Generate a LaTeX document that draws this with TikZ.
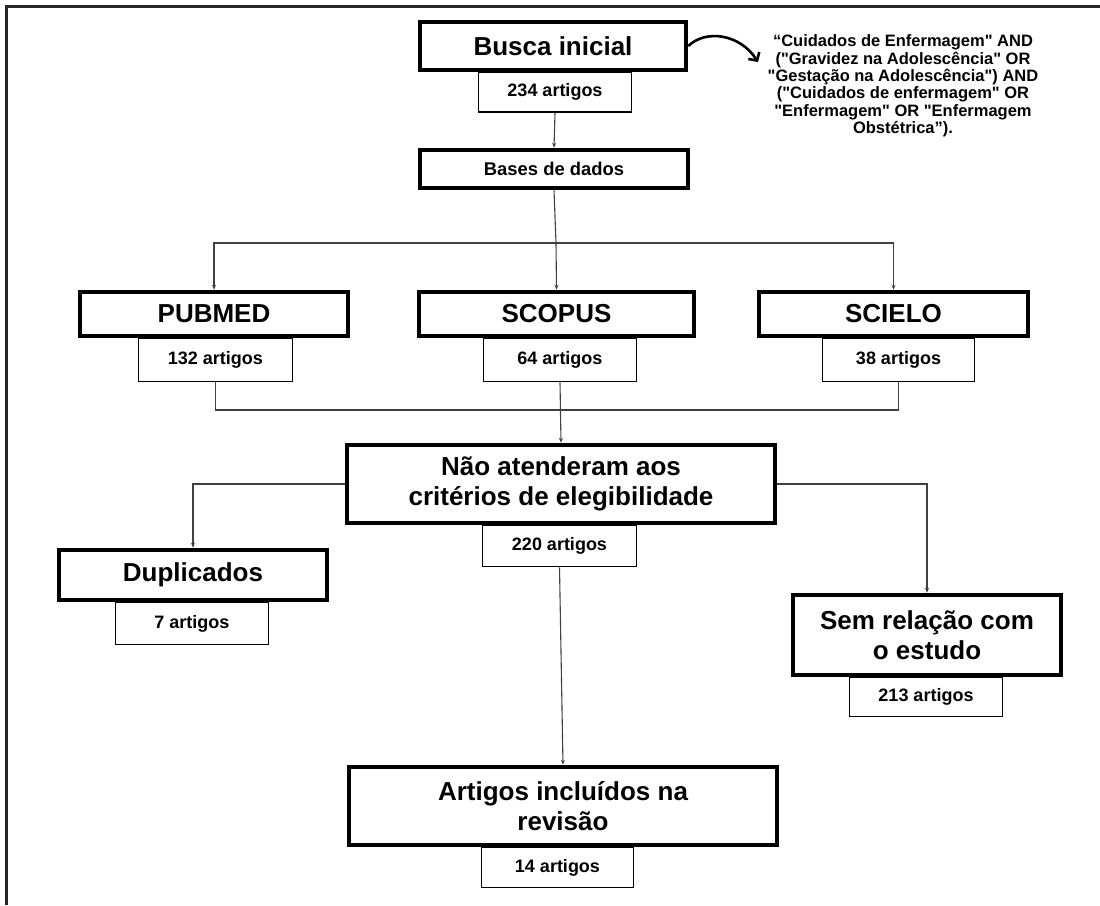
\documentclass[tikz,border=0pt]{standalone}
\usepackage{fontspec}
\setmainfont{Liberation Sans}[Ligatures=TeXOff]
\usetikzlibrary{arrows.meta}
\begin{document}
\begin{tikzpicture}[x=1pt,y=-1pt,
 bigbox/.style={draw, line width=4.5pt, inner sep=0pt, align=center, fill=white, font=\bfseries\fontsize{26}{30}\selectfont},
 cntbox/.style={draw, line width=1.6pt, inner sep=0pt, align=center, fill=white, font=\bfseries\fontsize{18}{21}\selectfont},
 conn/.style={draw=black!75, line width=1.1pt},
 arr/.style={conn, -{Stealth[length=5pt,width=4pt]}},
 query/.style={align=center, inner sep=0pt, font=\bfseries\fontsize{16.5}{17.4}\selectfont},
]
\useasboundingbox (0,0) rectangle (1100,905);
\draw[line width=2.6pt, black!85] (6.5,905) -- (6.5,6.5) -- (1100,6.5);

% count boxes
\node[cntbox, minimum width=153pt, minimum height=40pt] (n234) at (555,92) {234 artigos};
\node[cntbox, minimum width=154pt, minimum height=43pt] (n132) at (215.5,360) {132 artigos};
\node[cntbox, minimum width=153pt, minimum height=43pt] (n64) at (560,360) {64 artigos};
\node[cntbox, minimum width=152pt, minimum height=43pt] (n38) at (898.5,360) {38 artigos};
\node[cntbox, minimum width=154pt, minimum height=41pt] (n220) at (559.5,546) {220 artigos};
\node[cntbox, minimum width=153pt, minimum height=42pt] (n7) at (192,623.5) {7 artigos};
\node[cntbox, minimum width=153pt, minimum height=39pt] (n213) at (926,697) {213 artigos};
\node[cntbox, minimum width=152pt, minimum height=40pt] (n14) at (557.5,867.5) {14 artigos};

% main boxes
\node[bigbox, minimum width=266pt, minimum height=48pt] (busca) at (553,46) {Busca inicial};
\node[bigbox, minimum width=268pt, minimum height=38pt, font=\bfseries\fontsize{18.4}{21}\selectfont] (bases) at (554,169) {Bases de dados};
\node[bigbox, minimum width=268pt, minimum height=44pt] (pubmed) at (214,314) {PUBMED};
\node[bigbox, minimum width=275pt, minimum height=44pt] (scopus) at (556.5,314) {SCOPUS};
\node[bigbox, minimum width=269pt, minimum height=44pt] (scielo) at (893.5,314) {SCIELO};
\node[bigbox, minimum width=428pt, minimum height=78pt] (nao) at (561,484) {Não atenderam aos\\critérios de elegibilidade};
\node[bigbox, minimum width=268pt, minimum height=50pt] (dup) at (193,575) {Duplicados};
\node[bigbox, minimum width=268pt, minimum height=80pt] (sem) at (927,635) {Sem relação com\\o estudo};
\node[bigbox, minimum width=428pt, minimum height=78pt] (art) at (563,806) {Artigos incluídos na\\revisão};

% query text
\node[query] (q) at (903,86) {“Cuidados de Enfermagem" AND\\("Gravidez na Adolescência" OR\\"Gestação na Adolescência") AND\\("Cuidados de enfermagem" OR\\"Enfermagem" OR "Enfermagem\\Obstétrica”).};
\coordinate (qa) at (758,62);
\draw[line width=2.6pt, -{Straight Barb[length=6pt,width=13pt,line width=2.6pt]}] (busca.east) .. controls (706,29) and (740,34) .. (qa);

% connectors
\draw[arr] (n234.south) -- (bases.north);
\coordinate (j1) at (556,243);
\draw[conn] (bases.south) -- (j1);
\draw[arr] (j1) -| (pubmed.north);
\draw[arr] (j1) -| (scielo.north);
\draw[arr] (j1) -- (scopus.north);
\coordinate (j2) at (558,410);
\draw[conn] (n132.south) |- (j2) -| (n38.south);
\draw[arr] (n64.south) -- (nao.north);
\draw[arr] (nao.west) -| (dup.north);
\draw[arr] (nao.east) -| (sem.north);
\draw[arr] (n220.south) -- (art.north);
\end{tikzpicture}
\end{document}
